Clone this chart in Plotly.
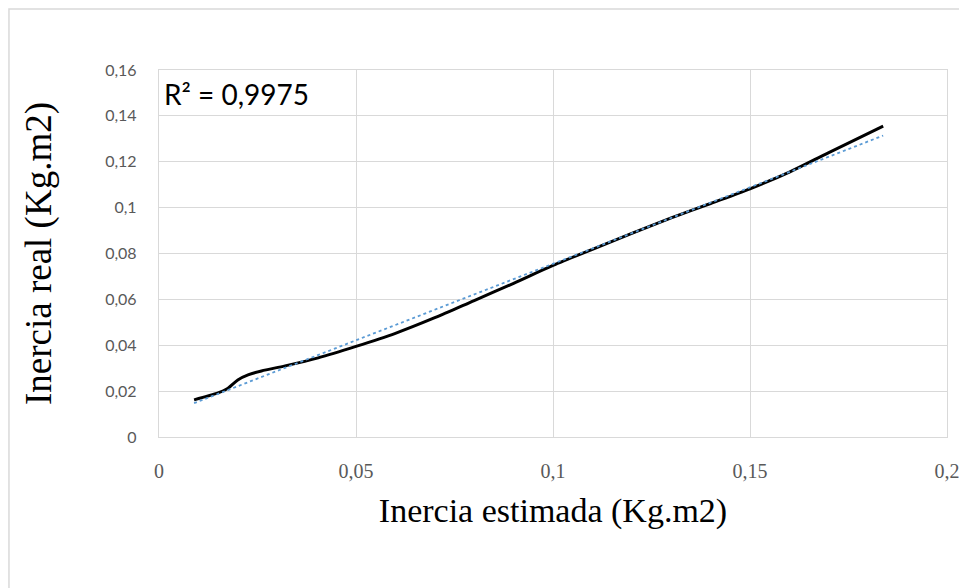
import numpy as np
import plotly.graph_objects as go

# Data
inercia_estimada = [0.0089, 0.0150, 0.0173, 0.0200, 0.0226, 0.0260, 0.0320, 0.0404,
                    0.0500, 0.0600, 0.0700, 0.0800, 0.0900, 0.1000, 0.1100, 0.1200,
                    0.1300, 0.1400, 0.1500, 0.1600, 0.1700, 0.1838]
inercia_real = [0.0162, 0.0192, 0.0210, 0.0249, 0.0271, 0.0288, 0.0310, 0.0345,
                0.0395, 0.0452, 0.0520, 0.0595, 0.0670, 0.0748, 0.0818, 0.0888,
                0.0955, 0.1018, 0.1082, 0.1155, 0.1240, 0.1355]
x_ticks = [0, 0.05, 0.1, 0.15, 0.2]
x_tick_labels = ["0", "0,05", "0,1", "0,15", "0,2"]
y_ticks = [0, 0.02, 0.04, 0.06, 0.08, 0.1, 0.12, 0.14, 0.16]
y_tick_labels = ["0", "0,02", "0,04", "0,06", "0,08", "0,1", "0,12", "0,14", "0,16"]
r2_text = "R² = 0,9975"

# Linear trendline fitted to the data
slope, intercept = np.polyfit(inercia_estimada, inercia_real, 1)
trend_x = [inercia_estimada[0], inercia_estimada[-1]]
trend_y = [slope * v + intercept for v in trend_x]

fig = go.Figure()
fig.add_trace(go.Scatter(
    x=inercia_estimada, y=inercia_real, mode="lines",
    line=dict(color="black", width=3, shape="spline", smoothing=0.8),
    showlegend=False))
fig.add_trace(go.Scatter(
    x=trend_x, y=trend_y, mode="lines",
    line=dict(color="#5B9BD5", width=1.8, dash="dot"),
    showlegend=False))

grid = "#D9D9D9"
fig.update_layout(
    width=967, height=588,
    margin=dict(l=151, r=28, t=62, b=159),
    paper_bgcolor="white", plot_bgcolor="white",
    xaxis=dict(
        range=[0, 0.2], tickvals=x_ticks, ticktext=x_tick_labels,
        showgrid=True, gridcolor=grid, gridwidth=1.3,
        showline=True, linecolor=grid, linewidth=1.3, mirror=True,
        zeroline=False, ticks="", ticklabelstandoff=16,
        tickfont=dict(family="Liberation Serif", size=20, color="#595959"),
        title=dict(text="Inercia estimada (Kg.m2)", standoff=17,
                   font=dict(family="Liberation Serif", size=34, color="black")),
    ),
    yaxis=dict(
        range=[0, 0.16], tickvals=y_ticks, ticktext=y_tick_labels,
        showgrid=True, gridcolor=grid, gridwidth=1.3,
        showline=True, linecolor=grid, linewidth=1.3, mirror=True,
        zeroline=False, ticks="", ticklabelstandoff=18,
        tickfont=dict(family="Lato", size=16, color="#595959"),
        title=dict(text="Inercia real (Kg.m2)", standoff=42,
                   font=dict(family="Liberation Serif", size=37, color="black")),
    ),
    annotations=[dict(
        text=r2_text, xref="paper", yref="paper", x=0.004, y=0.935,
        xanchor="left", yanchor="middle", showarrow=False,
        font=dict(family="Lato", size=28, color="black"))],
    shapes=[dict(
        type="rect", xref="paper", yref="paper",
        x0=-0.1904, x1=1.06, y0=-0.47, y1=1.166,
        line=dict(color="#D9D9D9", width=1.5), fillcolor="rgba(0,0,0,0)",
        layer="below")],
)

fig.write_html("out.html")
